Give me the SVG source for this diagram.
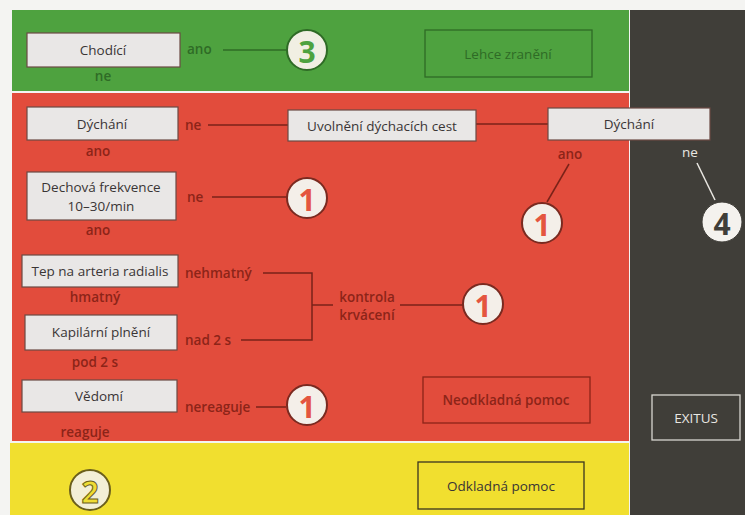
<svg xmlns="http://www.w3.org/2000/svg" width="745" height="515" viewBox="0 0 745 515">
<style>
text{font-family:"Open Sans","Liberation Sans",sans-serif;font-size:13.5px;text-anchor:middle;dominant-baseline:central}
.box{fill:#e9e7e6;stroke:#6b4a44;stroke-width:1.2}
.bt{fill:#3a3535}
.gt{fill:#2f6b26;font-weight:600}
.rt{fill:#8c2418;font-weight:600}
.wt{fill:#e9e7e2}
.lab{text-anchor:start}
.cr{fill:#f4efe9;stroke:#7a2a20;stroke-width:2}
.num{font-size:30px;font-weight:bold;fill:#e4553f}
.rl{stroke:#7a2218;stroke-width:1.5;fill:none}
.gl{stroke:#2f6b26;stroke-width:1.5;fill:none}
.wl{stroke:#e9e7e2;stroke-width:1.5;fill:none}
</style>
<rect x="0" y="0" width="745" height="515" fill="#f4f4f2"/>
<rect id="green-band" x="12" y="10" width="617" height="81" fill="#4ea23f"/>
<rect id="red-band" x="12" y="93" width="617" height="348" fill="#e24c3c"/>
<rect id="yellow-band" x="10" y="443" width="619" height="72" fill="#f1df2f"/>
<rect id="dark-band" x="630" y="10" width="115" height="505" fill="#403e39"/>

<g id="connectors">
<line class="gl" x1="223" y1="50" x2="287" y2="50"/>
<line class="rl" x1="208" y1="125" x2="288" y2="125"/>
<line class="rl" x1="476" y1="124" x2="548" y2="124"/>
<line class="rl" x1="569" y1="164" x2="547" y2="202"/>
<line class="wl" x1="697" y1="163" x2="715" y2="200"/>
<line class="rl" x1="212" y1="197" x2="287" y2="197"/>
<polyline class="rl" points="263,273 312,273 312,340 241,340"/>
<line class="rl" x1="312" y1="305" x2="333" y2="305"/>
<line class="rl" x1="400" y1="305" x2="463" y2="305"/>
<line class="rl" x1="256" y1="407" x2="286" y2="407"/>
</g>

<g id="chodici">
<rect class="box" x="27" y="33" width="153" height="34"/>
<text class="bt" x="103" y="50">Chodící</text>
<text class="gt lab" x="187" y="49">ano</text>
<text class="gt" x="103" y="76">ne</text>
</g>
<g id="c3">
<circle cx="307" cy="50" r="20" fill="#f1efe3" stroke="#2f6b26" stroke-width="2"/>
<text class="num" x="307" y="51" style="fill:#4ea23f">3</text>
</g>
<g id="lehce">
<rect x="425" y="30" width="167" height="47" fill="none" stroke="#2f6b26" stroke-width="1.3"/>
<text class="gt" x="508" y="54" style="font-weight:normal">Lehce zranění</text>
</g>

<g id="dychani1">
<rect class="box" x="27" y="107" width="151" height="33"/>
<text class="bt" x="102" y="124">Dýchání</text>
<text class="rt lab" x="185" y="125">ne</text>
<text class="rt" x="98" y="151">ano</text>
</g>
<g id="uvolneni">
<rect class="box" x="288" y="110" width="188" height="31"/>
<text class="bt" x="382" y="126">Uvolnění dýchacích cest</text>
</g>
<g id="dychani2">
<rect class="box" x="548" y="108" width="162" height="32"/>
<text class="bt" x="629" y="124">Dýchání</text>
<text class="rt" x="570" y="154">ano</text>
<text class="wt" x="690" y="152">ne</text>
</g>
<g id="c1a">
<circle class="cr" cx="542" cy="223" r="20"/>
<text class="num" x="542" y="224">1</text>
</g>
<g id="c4">
<circle cx="722" cy="222" r="20" fill="#f4f2ee" stroke="#403e39" stroke-width="1"/>
<text class="num" x="722" y="223" style="fill:#403e39">4</text>
</g>

<g id="dechova">
<rect class="box" x="27" y="172" width="149" height="48"/>
<text class="bt" x="101" y="187">Dechová frekvence</text>
<text class="bt" x="101" y="206">10–30/min</text>
<text class="rt lab" x="187" y="197">ne</text>
<text class="rt" x="98" y="230">ano</text>
</g>
<g id="c1b">
<circle class="cr" cx="307" cy="198" r="20"/>
<text class="num" x="307" y="199">1</text>
</g>

<g id="tep">
<rect class="box" x="22" y="255" width="156" height="32"/>
<text class="bt" x="100" y="271">Tep na arteria radialis</text>
<text class="rt lab" x="185" y="273">nehmatný</text>
<text class="rt" x="95" y="297">hmatný</text>
</g>
<g id="kapilarni">
<rect class="box" x="25" y="315" width="152" height="35"/>
<text class="bt" x="101" y="332">Kapilární plnění</text>
<text class="rt lab" x="185" y="340">nad 2 s</text>
<text class="rt" x="95" y="362">pod 2 s</text>
</g>
<g id="kontrola">
<text class="rt" x="367" y="297">kontrola</text>
<text class="rt" x="367" y="315">krvácení</text>
</g>
<g id="c1c">
<circle class="cr" cx="483" cy="304" r="20"/>
<text class="num" x="483" y="305">1</text>
</g>

<g id="vedomi">
<rect class="box" x="22" y="380" width="155" height="32"/>
<text class="bt" x="99" y="396">Vědomí</text>
<text class="rt lab" x="185" y="407">nereaguje</text>
<text class="rt" x="85" y="432">reaguje</text>
</g>
<g id="c1d">
<circle class="cr" cx="307" cy="405" r="20"/>
<text class="num" x="307" y="406">1</text>
</g>
<g id="neodkladna">
<rect x="423" y="377" width="167" height="46" fill="none" stroke="#8c2418" stroke-width="1.3"/>
<text class="rt" x="506" y="400">Neodkladná pomoc</text>
</g>
<g id="exitus">
<rect x="652" y="395" width="88" height="45" fill="none" stroke="#d8d6d0" stroke-width="1.3"/>
<text class="wt" x="696" y="418">EXITUS</text>
</g>

<g id="c2">
<circle cx="90" cy="490" r="20" fill="#f3efd6" stroke="#6b5f1c" stroke-width="2"/>
<text class="num" x="90" y="491" style="fill:#efdc34;stroke:#6b5f1c;stroke-width:1">2</text>
</g>
<g id="odkladna">
<rect x="418" y="462" width="166" height="47" fill="none" stroke="#3a3520" stroke-width="1.3"/>
<text class="bt" x="501" y="486">Odkladná pomoc</text>
</g>
</svg>
